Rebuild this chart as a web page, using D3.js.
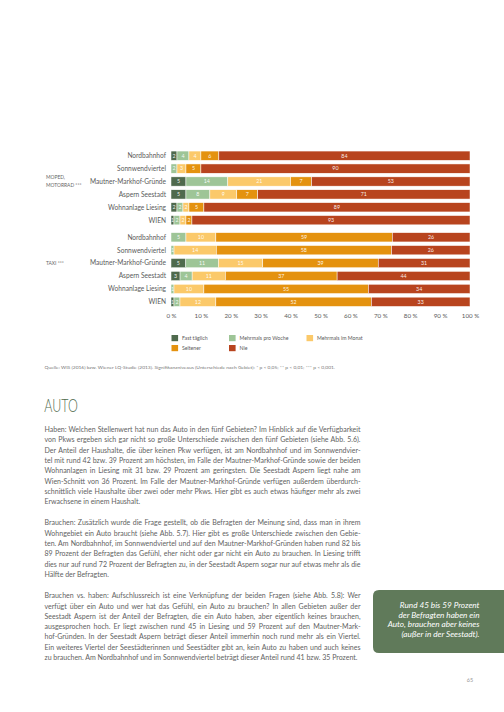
<!DOCTYPE html>
<html>
<head>
<meta charset="utf-8">
<script src="https://cdn.jsdelivr.net/npm/d3@7"></script>
<style>
  body { margin: 0; background: #fff; }
  #page { width: 504px; height: 712px; overflow: hidden; }
  text { font-family: Lato, "Open Sans", sans-serif; }
</style>
</head>
<body>
<div id="page"></div>
<script>
// Daten
const groups = ["MOPED, MOTORRAD ***", "TAXI ***"];
const categories = ["Nordbahnhof", "Sonnwendviertel", "Mautner-Markhof-Gründe", "Aspern Seestadt", "Wohnanlage Liesing", "WIEN"];
const seriesNames = ["Fast täglich", "Mehrmals pro Woche", "Mehrmals im Monat", "Seltener", "Nie"];
const seriesColors = ["#4f6a4d", "#9ec597", "#fbc96a", "#e4920f", "#b8441e"];
const mopedValues = [
  [2, 4, 4, 6, 84],
  [0, 2, 3, 5, 90],
  [5, 14, 21, 7, 53],
  [5, 8, 9, 7, 71],
  [2, 2, 2, 5, 89],
  [1, 2, 2, 2, 93]
];
const taxiValues = [
  [0, 5, 10, 59, 26],
  [0, 1, 14, 58, 26],
  [5, 11, 15, 39, 31],
  [3, 4, 11, 37, 44],
  [0, 1, 10, 55, 34],
  [1, 2, 12, 52, 33]
];
const tickValues = [0, 0.1, 0.2, 0.3, 0.4, 0.5, 0.6, 0.7, 0.8, 0.9, 1];
const tickLabels = ["0 %", "10 %", "20 %", "30 %", "40 %", "50 %", "60 %", "70 %", "80 %", "90 %", "100 %"];

const sourceText = "Quelle: WIS (2016) bzw. Wiener LQ-Studie (2013). Signifikanzniveaus (Unterschiede nach Gebiet): * p < 0,05; ** p < 0,01; *** p < 0,001.";
const heading = "AUTO";
const paragraphs = [
  ["Haben: Welchen Stellenwert hat nun das Auto in den fünf Gebieten? Im Hinblick auf die Verfügbarkeit",
   "von Pkws ergeben sich gar nicht so große Unterschiede zwischen den fünf Gebieten (siehe Abb. 5.6).",
   "Der Anteil der Haushalte, die über keinen Pkw verfügen, ist am Nordbahnhof und im Sonnwendvier-",
   "tel mit rund 42 bzw. 39 Prozent am höchsten, im Falle der Mautner-Markhof-Gründe sowie der beiden",
   "Wohnanlagen in Liesing mit 31 bzw. 29 Prozent am geringsten. Die Seestadt Aspern liegt nahe am",
   "Wien-Schnitt von 36 Prozent. Im Falle der Mautner-Markhof-Gründe verfügen außerdem überdurch-",
   "schnittlich viele Haushalte über zwei oder mehr Pkws. Hier gibt es auch etwas häufiger mehr als zwei",
   "Erwachsene in einem Haushalt."],
  ["Brauchen: Zusätzlich wurde die Frage gestellt, ob die Befragten der Meinung sind, dass man in ihrem",
   "Wohngebiet ein Auto braucht (siehe Abb. 5.7). Hier gibt es große Unterschiede zwischen den Gebie-",
   "ten. Am Nordbahnhof, im Sonnwendviertel und auf den Mautner-Markhof-Gründen haben rund 82 bis",
   "89 Prozent der Befragten das Gefühl, eher nicht oder gar nicht ein Auto zu brauchen. In Liesing trifft",
   "dies nur auf rund 72 Prozent der Befragten zu, in der Seestadt Aspern sogar nur auf etwas mehr als die",
   "Hälfte der Befragten."],
  ["Brauchen vs. haben: Aufschlussreich ist eine Verknüpfung der beiden Fragen (siehe Abb. 5.8): Wer",
   "verfügt über ein Auto und wer hat das Gefühl, ein Auto zu brauchen? In allen Gebieten außer der",
   "Seestadt Aspern ist der Anteil der Befragten, die ein Auto haben, aber eigentlich keines brauchen,",
   "ausgesprochen hoch. Er liegt zwischen rund 45 in Liesing und 59 Prozent auf den Mautner-Mark-",
   "hof-Gründen. In der Seestadt Aspern beträgt dieser Anteil immerhin noch rund mehr als ein Viertel.",
   "Ein weiteres Viertel der Seestädterinnen und Seestädter gibt an, kein Auto zu haben und auch keines",
   "zu brauchen. Am Nordbahnhof und im Sonnwendviertel beträgt dieser Anteil rund 41 bzw. 35 Prozent."]
];
const calloutLines = ["Rund 45 bis 59 Prozent", "der Befragten haben ein", "Auto, brauchen aber keines", "(außer in der Seestadt)."];
const pageNumber = "65";

const svg = d3.select("#page").append("svg")
  .attr("width", 504)
  .attr("height", 712);

// Skalen
const x = d3.scaleLinear().domain([0, 1]).range([171, 470]);
const yGroup = d3.scaleBand().domain(groups).range([149.25, 312.45]);
const yRow = d3.scaleBand().domain(categories).range([0, 77.4]).paddingInner(0.28).paddingOuter(0.14);
const color = d3.scaleOrdinal().domain(seriesNames).range(seriesColors);

const stack = d3.stack()
  .keys(d3.range(seriesNames.length))
  .offset(d3.stackOffsetExpand);

const groupData = [mopedValues, taxiValues];

groups.forEach((grp, gi) => {
  const gTop = yGroup(grp);
  const rows = groupData[gi];
  const layers = stack(rows);
  const g = svg.append("g").attr("transform", `translate(0,${gTop})`);

  // Balken
  layers.forEach((layer, si) => {
    const segs = g.selectAll(null)
      .data(layer.map((d, ri) => ({ x0: d[0], x1: d[1], v: rows[ri][si], cat: categories[ri] })))
      .enter();
    segs.append("rect")
      .attr("x", d => x(d.x0))
      .attr("y", d => yRow(d.cat))
      .attr("width", d => Math.max(0, x(d.x1) - x(d.x0)))
      .attr("height", yRow.bandwidth())
      .attr("fill", color(seriesNames[si]))
      .attr("stroke", "#fff")
      .attr("stroke-width", 0.5);
    segs.filter(d => d.v > 0).append("text")
      .attr("x", d => (x(d.x0) + x(d.x1)) / 2)
      .attr("y", d => yRow(d.cat) + yRow.bandwidth() / 2)
      .attr("dy", "0.35em")
      .attr("text-anchor", "middle")
      .style("font-size", "5.3px")
      .style("fill", "#fff")
      .style("fill-opacity", 0.92)
      .text(d => d.v);
  });

  // Kategorien
  g.selectAll(".cat")
    .data(categories)
    .enter().append("text")
    .attr("class", "cat")
    .attr("x", 166)
    .attr("y", d => yRow(d) + yRow.bandwidth() / 2)
    .attr("dy", "0.35em")
    .attr("text-anchor", "end")
    .style("font-size", "6.6px")
    .style("fill", "#5a5a5a")
    .text(d => d);

  // Gruppenlabel
  const lines = grp.indexOf(",") > -1 ? ["MOPED,", "MOTORRAD ***"] : [grp];
  const cy = yRow(categories[2]) + yRow.bandwidth() / 2;
  const gl = g.append("text")
    .attr("x", 46)
    .attr("y", cy - (lines.length - 1) * 3.9)
    .style("font-size", "4.9px")
    .style("fill", "#666");
  lines.forEach((l, i) => {
    gl.append("tspan").attr("x", 46).attr("dy", i === 0 ? "0.35em" : "7.8").text(l);
  });
});

// Achse
const axis = svg.append("g")
  .attr("transform", "translate(0,310)")
  .call(d3.axisBottom(x).tickValues(tickValues).tickSize(0).tickPadding(4)
    .tickFormat((d, i) => tickLabels[i]));
axis.select(".domain").remove();
axis.selectAll("text")
  .style("font-family", "Lato, sans-serif")
  .style("font-size", "6.2px")
  .style("fill", "#5a5a5a");

// Legende
const legendPos = [[171.5, 335], [229, 335], [306.5, 335], [171.5, 345], [229, 345]];
const legend = svg.selectAll(".leg")
  .data(seriesNames)
  .enter().append("g")
  .attr("class", "leg")
  .attr("transform", (d, i) => `translate(${legendPos[i][0]},${legendPos[i][1]})`);
legend.append("rect")
  .attr("width", 6.6)
  .attr("height", 6.2)
  .attr("fill", d => color(d));
legend.append("text")
  .attr("x", 10.5)
  .attr("y", 3.1)
  .attr("dy", "0.35em")
  .style("font-size", "5.2px")
  .style("fill", "#5a5a5a")
  .text(d => d);

// Quelle
svg.append("text")
  .attr("x", 44.5)
  .attr("y", 369.2)
  .attr("textLength", 290.5)
  .attr("lengthAdjust", "spacingAndGlyphs")
  .style("font-size", "4.5px")
  .style("fill", "#777")
  .text(sourceText);

// Überschrift
svg.append("text")
  .attr("x", 44.3)
  .attr("y", 411.8)
  .attr("textLength", 33.5)
  .attr("lengthAdjust", "spacingAndGlyphs")
  .style("font-size", "18.5px")
  .style("font-weight", 300)
  .style("fill", "#4f6a4d")
  .text(heading);

// Fließtext (Blocksatz)
const textLeft = 44.5, textWidth = 316, lineH = 10.3;
let lineY = 429.6;
paragraphs.forEach(par => {
  par.forEach((line, li) => {
    const t = svg.append("text")
      .attr("x", textLeft)
      .attr("y", lineY)
      .attr("dy", "0.35em")
      .style("font-size", "7px")
      .style("fill", "#626262")
      .text(line);
    if (li < par.length - 1) {
      const w = t.node().getComputedTextLength();
      const spaces = (line.match(/ /g) || []).length;
      if (w < textWidth && spaces > 0) {
        t.style("word-spacing", ((textWidth - w) / spaces) + "px");
      } else {
        t.attr("textLength", textWidth).attr("lengthAdjust", "spacingAndGlyphs");
      }
    }
    lineY += lineH;
  });
  lineY += lineH + 0.7;
});

// Kasten
svg.append("path")
  .attr("d", "M510,590 L379,590 Q373,590 373,596 L373,647 Q373,653 379,653 L510,653 Z")
  .attr("fill", "#607a5a");
svg.selectAll(".call")
  .data(calloutLines)
  .enter().append("text")
  .attr("class", "call")
  .attr("x", 479.5)
  .attr("y", (d, i) => 605 + i * 9.8)
  .attr("dy", "0.35em")
  .attr("text-anchor", "end")
  .style("font-size", "8.2px")
  .style("font-style", "italic")
  .style("font-weight", 400)
  .style("fill", "#fff")
  .text(d => d);

// Seitenzahl
svg.append("text")
  .attr("x", 470)
  .attr("y", 680)
  .attr("dy", "0.35em")
  .attr("text-anchor", "middle")
  .style("font-size", "5.5px")
  .style("fill", "#999")
  .text(pageNumber);
</script>
</body>
</html>
